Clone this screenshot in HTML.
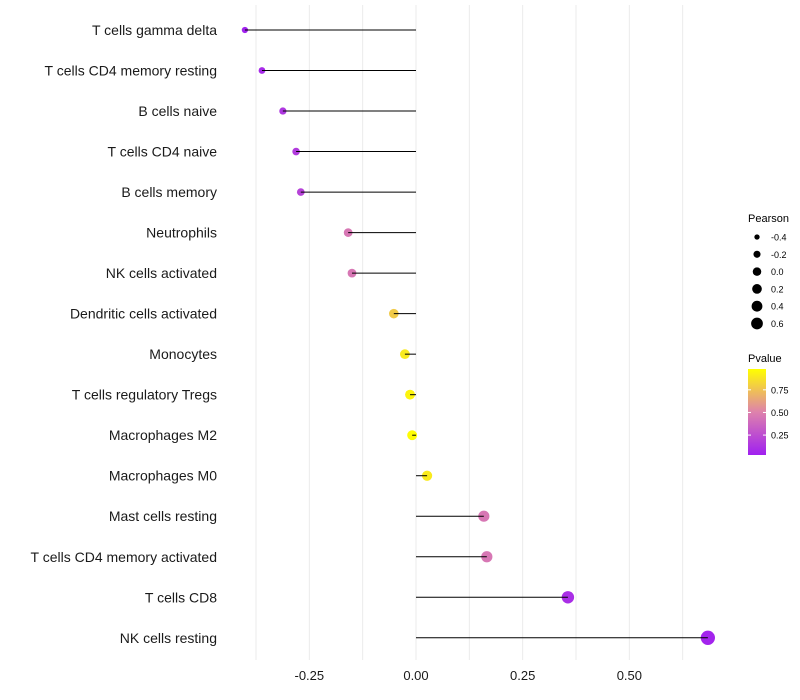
<!DOCTYPE html>
<html><head><meta charset="utf-8"><style>
body{margin:0;background:#fff;font-family:"Liberation Sans",sans-serif;}
svg{display:block}
</style></head><body>
<svg id="chart" width="800" height="700">
<g id="grid"></g>
<g id="dots"></g>
<g id="marks"></g>
<g id="ylabels"></g>
<g id="xlabels"></g>
<g id="legend"></g>
</svg>
<script>
const categories=["T cells gamma delta","T cells CD4 memory resting","B cells naive","T cells CD4 naive","B cells memory","Neutrophils","NK cells activated","Dendritic cells activated","Monocytes","T cells regulatory  Tregs ","Macrophages M2","Macrophages M0","Mast cells resting","T cells CD4 memory activated","T cells CD8","NK cells resting"];
const pearson=[-0.401,-0.361,-0.312,-0.281,-0.27,-0.159,-0.15,-0.052,-0.026,-0.014,-0.009,0.026,0.159,0.166,0.356,0.684];
const pvalues=[0.04,0.08,0.14,0.16,0.2,0.45,0.45,0.78,0.9,0.94,0.97,0.9,0.45,0.45,0.1,0.05];
const xTicks=[-0.25,0,0.25,0.5];
const xTickLabels=["-0.25","0.00","0.25","0.50"];
const gridVals=[-0.375,-0.25,-0.125,0,0.125,0.25,0.375,0.5,0.625];
const sizeLegend=[-0.4,-0.2,0.0,0.2,0.4,0.6];
const sizeLegendLabels=["-0.4","-0.2","0.0","0.2","0.4","0.6"];
const colorTicks=[0.75,0.5,0.25];
const colorTickLabels=["0.75","0.50","0.25"];
const NS="http://www.w3.org/2000/svg";
function mk(t,a,p){const e=document.createElementNS(NS,t);for(const k in a)e.setAttribute(k,a[k]);p.appendChild(e);return e;}
const x=v=>416+v*426.7;
const y=i=>30+i*40.52;
const r=v=>Math.sqrt(Math.max(25+38*v,4));
const pMin=0.03,pMax=0.98;
function col(p){let t=(p-pMin)/(pMax-pMin);t=Math.max(0,Math.min(1,t));
 const s=[[160,32,240],[222,130,172],[255,255,0]];let a,b,u;
 if(t<0.5){a=s[0];b=s[1];u=t*2;}else{a=s[1];b=s[2];u=(t-0.5)*2;}
 return `rgb(${a.map((c,i)=>Math.round(c+(b[i]-c)*u)).join(',')})`;}
const grid=document.getElementById('grid');
gridVals.forEach(g=>{const l=mk('line',{x1:x(g),x2:x(g),y1:5,y2:660,stroke:'#ebebeb','stroke-width':1},grid);

});
const marks=document.getElementById('marks'),dots=document.getElementById('dots'),yl=document.getElementById('ylabels');
categories.forEach((c,i)=>{
 const d=mk('circle',{cx:x(pearson[i]),cy:y(i),r:r(pearson[i]),fill:col(pvalues[i])},dots);
 
 
 const l=mk('line',{x1:x(0),x2:x(pearson[i]),y1:y(i),y2:y(i),stroke:'#000','stroke-width':1},marks);
 
 
 const t=mk('text',{x:217,y:y(i)+5,'text-anchor':'end','font-size':14,fill:'#1a1a1a'},yl);
 t.textContent=c;
 
 
});
const xl=document.getElementById('xlabels');
xTicks.forEach((v,i)=>{const t=mk('text',{x:x(v),y:680,'text-anchor':'middle','font-size':13,fill:'#1a1a1a'},xl);
t.textContent=xTickLabels[i];

});
const lg=document.getElementById('legend');
let tt=mk('text',{x:748,y:222,'font-size':11},lg);tt.textContent='Pearson';


sizeLegend.forEach((v,i)=>{const cy=237+i*17.3;
 const c=mk('circle',{cx:757,cy:cy,r:r(v)*0.85,fill:'#000'},lg);
 
 
 const t=mk('text',{x:771,y:cy+3.5,'font-size':9},lg);t.textContent=sizeLegendLabels[i];
 
 });
tt=mk('text',{x:748,y:362,'font-size':11},lg);tt.textContent='Pvalue';


const defs=mk('defs',{},lg);const gr=mk('linearGradient',{id:'pg',x1:0,y1:1,x2:0,y2:0},defs);
[0,0.25,0.5,0.75,1].forEach(o=>mk('stop',{offset:o,'stop-color':col(pMin+o*(pMax-pMin))},gr));
const cbTop=369,cbBot=455;
const bar=mk('rect',{x:748,y:cbTop,width:18,height:cbBot-cbTop,fill:'url(#pg)'},lg);


colorTicks.forEach((v,i)=>{const cy=cbBot-(v-pMin)/(pMax-pMin)*(cbBot-cbTop);
 mk('line',{x1:748,x2:751,y1:cy,y2:cy,stroke:'#fff'},lg);mk('line',{x1:763,x2:766,y1:cy,y2:cy,stroke:'#fff'},lg);
 const t=mk('text',{x:771,y:cy+3.5,'font-size':9},lg);t.textContent=colorTickLabels[i];
 
 });
</script>
</body></html>
